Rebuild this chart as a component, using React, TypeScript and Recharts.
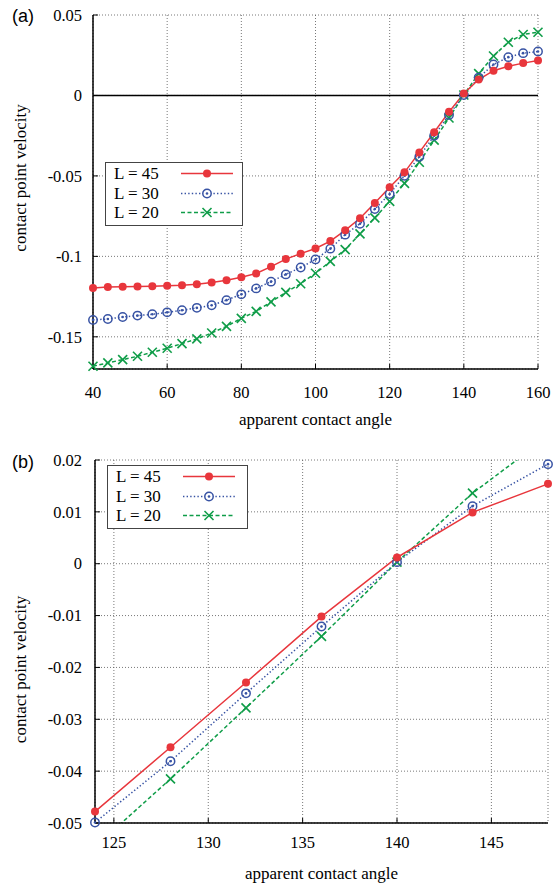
import React from 'react'
import { LineChart, Line, XAxis, YAxis, CartesianGrid, ReferenceLine, Legend } from 'recharts'

// apparent contact angle (deg), sampled every 4 degrees
const angles = [
  40, 44, 48, 52, 56, 60, 64, 68, 72, 76, 80, 84, 88, 92, 96, 100,
  104, 108, 112, 116, 120, 124, 128, 132, 136, 140, 144, 148, 152, 156, 160,
]
const l45 = [
  -0.1196, -0.119, -0.1189, -0.1188, -0.1186, -0.1183, -0.118, -0.1174, -0.1163, -0.1149, -0.113,
  -0.1106, -0.1064, -0.1017, -0.0983, -0.0951, -0.0905, -0.0838, -0.0763, -0.0668, -0.057, -0.0478,
  -0.0354, -0.0229, -0.0102, 0.0012, 0.0099, 0.0154, 0.0182, 0.0201, 0.0217,
]
const l30 = [
  -0.1395, -0.1389, -0.1377, -0.1368, -0.136, -0.1348, -0.1335, -0.132, -0.1304, -0.1272, -0.1236,
  -0.1199, -0.1157, -0.1112, -0.1069, -0.1019, -0.0952, -0.0865, -0.0797, -0.0706, -0.0612, -0.0499,
  -0.0381, -0.025, -0.0121, 0.0003, 0.0111, 0.0192, 0.0238, 0.0263, 0.0273,
]
const l20 = [
  -0.1683, -0.1662, -0.1642, -0.1621, -0.1596, -0.1571, -0.1542, -0.1513, -0.1476, -0.1435, -0.1385,
  -0.1342, -0.1283, -0.1224, -0.117, -0.1105, -0.1031, -0.0958, -0.086, -0.0761, -0.0658, -0.0546,
  -0.0415, -0.0278, -0.014, 0.0003, 0.0136, 0.0245, 0.0331, 0.0379, 0.0393,
]

const xTicksA = [40, 60, 80, 100, 120, 140, 160]
const yTicksA = [-0.15, -0.1, -0.05, 0, 0.05]
const xDomainA = [40, 160]
const yDomainA = [-0.17, 0.05]

const xTicksB = [125, 130, 135, 140, 145]
const yTicksB = [-0.05, -0.04, -0.03, -0.02, -0.01, 0, 0.01, 0.02]
const xDomainB = [124, 148]
const yDomainB = [-0.05, 0.02]

const legendNames = ['L = 45', 'L = 30', 'L = 20']

const RED = '#e8363c'
const BLUE = '#3853a4'
const GREEN = '#0f9d48'
const BLUE_DASH = '1.4 2.2'
const GREEN_DASH = '4 2.5'
const SERIF = 'Liberation Serif'
const SANS = 'Liberation Sans'

const rows = angles.map((a, i) => ({ angle: a, l45: l45[i], l30: l30[i], l20: l20[i] }))
const rowsB = rows.filter((r) => r.angle >= xDomainB[0] && r.angle <= xDomainB[1])

const redDot = { r: 4, fill: RED, stroke: RED, strokeWidth: 0, strokeDasharray: 'none', clipDot: false }
const blueRing = { r: 4.2, fill: 'none', stroke: BLUE, strokeWidth: 1.5, strokeDasharray: 'none', clipDot: false }
const blueCenter = { r: 1.3, fill: BLUE, stroke: 'none', strokeDasharray: 'none', clipDot: false }

function GreenCross(props: any) {
  const { cx, cy, index } = props
  if (cx == null || cy == null) return <g key={index} />
  const s = 4.5
  return (
    <g key={index} stroke={GREEN} strokeWidth={1.6}>
      <line x1={cx - s} y1={cy - s} x2={cx + s} y2={cy + s} />
      <line x1={cx - s} y1={cy + s} x2={cx + s} y2={cy - s} />
    </g>
  )
}

function XTick(props: any) {
  const { x, y, payload } = props
  return (
    <text x={x} y={y} dy="0.71em" textAnchor="middle" fontFamily={SERIF} fontSize={16.5} fill="#000">
      {payload.value}
    </text>
  )
}

function YTick(props: any) {
  const { x, y, payload } = props
  return (
    <text x={x} y={y} dy="0.35em" textAnchor="end" fontFamily={SERIF} fontSize={16.5} fill="#000">
      {payload.value}
    </text>
  )
}

function LegendBox({ width }: { width: number }) {
  const sample = (i: number) => {
    if (i === 0)
      return (
        <g>
          <line x1={0} y1={9.5} x2={52} y2={9.5} stroke={RED} strokeWidth={1.5} />
          <circle cx={26} cy={9.5} r={4} fill={RED} />
        </g>
      )
    if (i === 1)
      return (
        <g>
          <line x1={0} y1={9.5} x2={52} y2={9.5} stroke={BLUE} strokeWidth={1.5} strokeDasharray={BLUE_DASH} />
          <circle cx={26} cy={9.5} r={4.2} fill="#fff" stroke={BLUE} strokeWidth={1.5} />
          <circle cx={26} cy={9.5} r={1.3} fill={BLUE} />
        </g>
      )
    return (
      <g>
        <line x1={0} y1={9.5} x2={52} y2={9.5} stroke={GREEN} strokeWidth={1.5} strokeDasharray={GREEN_DASH} />
        <g stroke={GREEN} strokeWidth={1.6}>
          <line x1={21.5} y1={5} x2={30.5} y2={14} />
          <line x1={21.5} y1={14} x2={30.5} y2={5} />
        </g>
      </g>
    )
  }
  return (
    <div
      style={{
        width,
        boxSizing: 'border-box',
        border: '1px solid #444',
        background: '#fff',
        padding: '1px 0 2px 0',
        fontFamily: SERIF,
        fontSize: 17,
        color: '#000',
      }}
    >
      {legendNames.map((name, i) => (
        <div key={name} style={{ display: 'flex', alignItems: 'center', height: 19.5 }}>
          <span style={{ width: 75, paddingLeft: 8, boxSizing: 'border-box', lineHeight: '19px' }}>{name}</span>
          <svg width={54} height={19} style={{ overflow: 'visible' }}>
            {sample(i)}
          </svg>
        </div>
      ))}
    </div>
  )
}

const yTitle = (tag: string, tagDy: number, shift: number) => (props: any) => {
  const vb = props.viewBox
  const cy = vb.y + vb.height / 2 + shift
  return (
    <g>
      <text x={12} y={vb.y + tagDy} fontFamily={SANS} fontSize={18} fill="#000">
        {tag}
      </text>
      <text
        x={20}
        y={cy}
        transform={`rotate(-90 20 ${cy})`}
        textAnchor="middle"
        dy="0.35em"
        fontFamily={SERIF}
        fontSize={17}
        fill="#000"
      >
        contact point velocity
      </text>
    </g>
  )
}

const xTitle = (props: any) => {
  const vb = props.viewBox
  return (
    <text
      x={vb.x + vb.width / 2}
      y={vb.y + 50}
      dy="0.35em"
      textAnchor="middle"
      fontFamily={SERIF}
      fontSize={17}
      fill="#000"
    >
      apparent contact angle
    </text>
  )
}

const axisLine = { stroke: '#000', strokeWidth: 1.5 }
const tickLine = { stroke: '#000', strokeWidth: 1 }

function PanelA() {
  return (
    <LineChart
      width={555}
      height={440}
      data={rows}
      margin={{ top: 15, right: 17, bottom: 11, left: 0 }}
      style={{ fontFamily: SERIF }}
    >
      <CartesianGrid stroke="#555" strokeDasharray="1 2" strokeWidth={0.8} />
      <XAxis
        dataKey="angle"
        type="number"
        domain={xDomainA}
        ticks={xTicksA}
        height={60}
        tick={XTick}
        tickSize={-5}
        tickMargin={22}
        axisLine={axisLine}
        tickLine={tickLine}
        label={xTitle}
      />
      <XAxis
        xAxisId="top"
        orientation="top"
        type="number"
        domain={xDomainA}
        ticks={xTicksA}
        height={0}
        tick={false}
        tickSize={-5}
        axisLine={axisLine}
        tickLine={tickLine}
        allowDataOverflow
      />
      <YAxis
        type="number"
        domain={yDomainA}
        ticks={yTicksA}
        width={93}
        tick={YTick}
        tickSize={-5}
        tickMargin={16}
        axisLine={axisLine}
        tickLine={tickLine}
        label={yTitle('(a)', 7, -14)}
      />
      <YAxis
        yAxisId="right"
        orientation="right"
        type="number"
        domain={yDomainA}
        ticks={yTicksA}
        width={0}
        tick={false}
        tickSize={-5}
        axisLine={axisLine}
        tickLine={tickLine}
        allowDataOverflow
      />
      <ReferenceLine y={0} stroke="#000" strokeWidth={1.5} />
      <Line
        dataKey="l20"
        stroke={GREEN}
        strokeWidth={1.5}
        strokeDasharray={GREEN_DASH}
        dot={GreenCross}
        isAnimationActive={false}
      />
      <Line
        dataKey="l30"
        stroke={BLUE}
        strokeWidth={1.5}
        strokeDasharray={BLUE_DASH}
        dot={blueRing}
        isAnimationActive={false}
      />
      <Line dataKey="l30" stroke="none" dot={blueCenter} legendType="none" isAnimationActive={false} />
      <Line dataKey="l45" stroke={RED} strokeWidth={1.5} dot={redDot} isAnimationActive={false} />
      <Legend
        layout="vertical"
        align="center"
        verticalAlign="middle"
        wrapperStyle={{ left: 105, top: 162, width: 138 }}
        content={() => <LegendBox width={138} />}
      />
    </LineChart>
  )
}

function PanelB() {
  return (
    <LineChart
      width={555}
      height={445}
      data={rowsB}
      margin={{ top: 20, right: 7, bottom: 12, left: 0 }}
      style={{ fontFamily: SERIF }}
    >
      <CartesianGrid stroke="#555" strokeDasharray="1 2" strokeWidth={0.8} />
      <XAxis
        dataKey="angle"
        type="number"
        domain={xDomainB}
        ticks={xTicksB}
        height={50}
        tick={XTick}
        tickSize={-5}
        tickMargin={18}
        axisLine={axisLine}
        tickLine={tickLine}
        label={xTitle}
      />
      <XAxis
        xAxisId="top"
        orientation="top"
        type="number"
        domain={xDomainB}
        ticks={xTicksB}
        height={0}
        tick={false}
        tickSize={-5}
        axisLine={axisLine}
        tickLine={tickLine}
        allowDataOverflow
      />
      <YAxis
        type="number"
        domain={yDomainB}
        ticks={yTicksB}
        width={95}
        tick={YTick}
        tickSize={-5}
        tickMargin={18}
        axisLine={axisLine}
        tickLine={tickLine}
        allowDataOverflow
        label={yTitle('(b)', 8, 28)}
      />
      <YAxis
        yAxisId="right"
        orientation="right"
        type="number"
        domain={yDomainB}
        ticks={yTicksB}
        width={0}
        tick={false}
        tickSize={-5}
        axisLine={axisLine}
        tickLine={tickLine}
        allowDataOverflow
      />
      <Line
        dataKey="l20"
        stroke={GREEN}
        strokeWidth={1.5}
        strokeDasharray={GREEN_DASH}
        dot={GreenCross}
        isAnimationActive={false}
      />
      <Line
        dataKey="l30"
        stroke={BLUE}
        strokeWidth={1.5}
        strokeDasharray={BLUE_DASH}
        dot={blueRing}
        isAnimationActive={false}
      />
      <Line dataKey="l30" stroke="none" dot={blueCenter} legendType="none" isAnimationActive={false} />
      <Line dataKey="l45" stroke={RED} strokeWidth={1.5} dot={redDot} isAnimationActive={false} />
      <Legend
        layout="vertical"
        align="center"
        verticalAlign="middle"
        wrapperStyle={{ left: 107, top: 25, width: 141 }}
        content={() => <LegendBox width={141} />}
      />
    </LineChart>
  )
}

export default function App() {
  return (
    <div style={{ position: 'absolute', left: 0, top: 0, width: 555, height: 885, background: '#fff' }}>
      <div style={{ position: 'absolute', left: 0, top: 0 }}>
        <PanelA />
      </div>
      <div style={{ position: 'absolute', left: 0, top: 440 }}>
        <PanelB />
      </div>
    </div>
  )
}
